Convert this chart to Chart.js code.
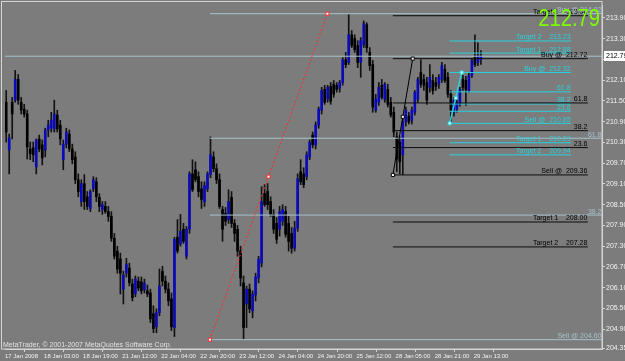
<!DOCTYPE html>
<html><head><meta charset="utf-8">
<script src="https://cdn.jsdelivr.net/npm/chart.js@4"></script>
<style>html,body{margin:0;padding:0;background:#7c7c7c;overflow:hidden}canvas{display:block}</style>
</head><body>
<canvas id="c" width="625" height="361"></canvas>
<script>
// ---- time axis labels (one every 13 bars on the index axis) ----
const tickLabels = ['17 Jan 2008','18 Jan 03:00','18 Jan 19:00','21 Jan 12:00','22 Jan 04:00','22 Jan 20:00','23 Jan 12:00','24 Jan 04:00','24 Jan 20:00','25 Jan 12:00','28 Jan 05:00','28 Jan 21:00','29 Jan 13:00'];
const priceTicks = [213.90,213.30,212.70,212.10,211.50,210.90,210.30,209.70,209.10,208.50,207.90,207.30,206.70,206.10,205.50,204.90,204.35];
const bidPrice = 212.79;

// ---- OHLC series ----
const open = [211.46,210.08,211.46,211.52,212.12,211.46,211.26,211.12,210.11,210.14,
209.59,210.40,210.23,210.08,210.66,210.71,210.69,211.09,210.80,209.80,
210.25,210.54,210.11,209.88,209.22,208.59,209.11,208.73,208.39,208.96,
209.16,208.71,208.36,208.45,208.30,208.16,207.53,207.16,206.93,206.06,
206.52,206.67,206.21,205.92,206.29,206.27,206.04,206.01,205.95,205.35,
204.97,205.38,206.58,206.29,206.06,205.78,204.95,207.56,207.36,207.79,
207.01,207.79,209.39,209.51,209.31,208.96,208.59,208.96,209.37,209.88,
209.54,209.22,208.36,208.25,208.07,208.71,207.96,207.79,207.16,206.24,
205.63,206.06,205.43,205.89,206.38,206.81,208.82,208.88,208.59,208.22,
207.96,207.79,208.02,208.30,207.96,207.67,207.24,207.82,209.45,209.39,
209.31,209.88,210.51,210.23,210.80,211.23,211.83,211.55,211.92,211.98,
211.95,211.86,212.03,212.69,212.61,213.41,213.30,213.10,212.61,213.12,
213.70,212.90,212.55,211.23,211.46,211.95,211.55,211.83,211.46,211.17,
210.46,210.31,209.94,210.89,211.06,210.94,211.17,211.55,212.32,212.12,
212.03,211.89,212.09,212.03,211.98,212.12,212.41,212.18,211.69,211.17,
211.26,211.40,212.12,212.09,211.80,212.24,212.75,212.61,212.69];
const high = [211.80,210.54,211.60,212.38,212.26,211.60,211.40,211.23,210.31,210.31,
210.40,210.51,210.37,210.71,210.94,211.17,211.52,211.23,210.94,210.37,
210.71,210.66,210.25,210.03,209.39,209.22,209.37,208.88,208.93,209.31,
209.28,208.82,208.59,208.59,208.45,208.30,207.67,207.30,207.10,206.58,
206.95,206.81,206.35,206.44,206.41,206.41,206.35,206.18,206.06,205.58,
205.49,206.64,206.72,206.44,206.24,205.95,207.56,208.07,208.22,207.96,
207.87,209.45,209.80,209.74,209.45,209.16,209.16,209.45,210.46,210.03,
209.68,209.39,208.45,208.42,208.93,208.88,208.07,207.90,207.30,206.44,
206.15,206.21,206.01,206.52,207.01,209.02,209.08,209.11,208.73,208.36,
208.13,208.45,208.50,208.45,208.16,207.84,208.02,209.39,209.80,209.57,
210.03,210.37,210.60,210.89,211.32,211.89,211.95,211.95,212.03,212.09,
212.03,212.09,212.75,212.90,213.99,213.53,213.41,213.24,213.33,213.81,
213.76,213.04,212.67,211.69,212.03,212.12,212.03,211.98,211.60,211.32,
210.60,210.46,210.97,211.32,211.17,211.32,211.80,212.18,212.69,212.26,
212.18,212.55,212.26,212.18,212.26,212.61,212.55,212.32,211.80,211.60,
211.57,211.89,212.24,212.21,212.32,212.72,213.41,213.18,212.95];
const low = [210.31,209.39,210.40,211.46,211.40,211.12,211.03,209.82,209.80,209.74,
209.39,210.03,209.65,209.88,210.46,210.60,210.60,210.60,210.23,209.51,
210.14,210.03,209.68,209.11,208.73,208.45,208.36,208.36,208.30,208.88,
208.59,208.30,208.22,208.25,208.02,207.44,206.93,206.52,205.92,205.63,
206.41,206.15,205.72,205.84,206.01,205.92,205.95,205.84,205.09,204.80,
204.80,205.29,206.15,205.95,205.58,204.86,204.69,207.10,207.30,207.38,
206.93,207.67,208.88,209.16,208.73,208.39,208.45,208.88,209.28,209.45,
209.11,208.39,207.44,207.90,207.96,207.84,207.44,207.01,206.15,204.60,
204.95,205.38,205.23,205.72,206.24,206.70,208.45,208.36,208.16,207.67,
207.38,207.59,207.90,207.56,207.16,207.10,207.16,207.73,209.08,208.99,
209.22,209.80,210.14,210.11,210.71,211.12,211.40,211.46,211.40,211.60,
211.75,211.75,211.95,212.46,212.55,213.04,212.90,212.46,212.18,213.04,
212.90,212.38,211.17,211.17,211.37,211.55,211.46,211.32,211.03,210.46,
209.45,209.39,209.37,210.77,210.83,210.83,211.09,211.46,211.89,211.80,
211.40,211.75,211.69,211.80,211.86,212.03,212.03,211.60,210.89,211.06,
211.17,211.35,211.80,211.37,211.75,212.18,212.49,212.52,212.55];
const close = [210.60,210.43,211.12,212.12,211.52,211.23,211.12,210.17,209.97,209.94,
210.37,210.11,209.85,210.66,210.80,210.94,211.12,210.69,210.40,210.25,
210.60,210.11,209.80,209.22,208.88,209.11,208.59,208.45,208.88,209.22,
208.73,208.45,208.50,208.30,208.16,207.53,207.01,206.64,206.52,206.47,
206.78,206.24,205.81,206.35,206.09,206.01,206.24,205.92,205.20,204.92,
205.38,206.15,206.29,206.06,205.72,204.97,207.50,207.16,207.73,207.44,
207.79,209.39,208.93,209.22,208.88,208.65,209.05,209.39,209.94,209.54,
209.22,208.45,207.79,208.02,208.59,207.96,207.67,207.16,206.38,204.95,
206.06,205.49,205.92,206.41,206.93,208.59,208.50,208.50,208.22,207.79,
207.50,208.30,208.36,207.64,207.44,207.24,207.82,209.25,209.16,209.08,
209.94,210.31,210.23,210.80,211.26,211.80,211.46,211.89,211.49,211.69,
211.83,212.03,212.69,212.55,213.41,213.10,212.98,212.61,213.24,213.73,
213.04,212.52,211.32,211.55,211.89,211.60,211.98,211.40,211.09,210.60,
209.82,209.74,210.89,211.23,210.89,211.23,211.75,212.12,211.98,211.95,
211.52,212.18,211.80,211.92,212.18,212.52,212.09,211.69,211.23,211.52,
211.46,211.83,211.89,211.83,212.24,212.67,212.55,212.81,212.79];

// ---- drawn objects: level sets (names, prices, bar-index span) ----
const fibNames  = ['Buy @ 214.02','61.8','38.2','Sell @ 204.60'];
const fibValues = [214.02,210.42,208.20,204.60];
const fibSpan   = [67.8,198.3];
const blkNames  = ['Target 2    213.96','Buy @  212.72','61.8','38.2','23.6','Sell @  209.36','Target 1    208.00','Target 2    207.28'];
const blkValues = [213.96,212.72,211.44,210.64,210.15,209.36,208.00,207.28];
const blkSpan   = [128.7,193.6];
const cyNames   = ['Target 2    213.23','Target 1    212.88','Buy @  212.32','61.8','38.2','23.6','Sell @  210.85','Target 1    210.29','Target 2    209.94'];
const cyValues  = [213.23,212.88,212.32,211.76,211.41,211.20,210.85,210.29,209.94];
const cySpan    = [147.6,188.0];
// zigzag trend objects (bar index, price)
const redZigX = [67.8,87.3,106.9],  redZigY = [204.60,209.31,214.02];
const blkZigX = [128.7,132.0,135.3], blkZigY = [209.36,211.04,212.72];
const cyZigX  = [147.6,149.6,151.6], cyZigY  = [210.85,211.58,212.32];

const FONT = "'Liberation Sans Narrow','Arial Narrow','Liberation Sans',Arial,sans-serif";
const FIB_C = '#a6c2cc', CY_C = '#28d2dc', BULL = '#0a0ab8', BEAR = '#000000', AXIS_T = '#f2f2f2';

Chart.defaults.font.family = FONT;
Chart.defaults.font.size = 7;

const idx = open.map((_, i) => i);
const datasets = [];

function levelSet(values, span, color, ord){
  values.forEach(v => datasets.push({type:'line', data:[{x:span[0],y:v},{x:span[1],y:v}],
    borderColor:color, borderWidth:1, pointRadius:0, order:ord}));
}
function zig(xs, ys, color, fill, dash, w){
  datasets.push({type:'line', data: xs.map((x,i)=>({x, y:ys[i]})), borderColor:color, borderWidth:w,
    borderDash:dash, pointStyle:'rect', pointRadius:2.2, pointBackgroundColor:fill,
    pointBorderColor:color, pointBorderWidth:1, order:1});
}
zig(redZigX, redZigY, '#ff2a2a', '#ffffff', [2,2], 1);
zig(blkZigX, blkZigY, '#000000', '#ffffff', [], 1);
zig(cyZigX, cyZigY, CY_C, '#d8ffff', [], 1.5);
levelSet(blkValues, blkSpan, '#0c0c0c', 2);
levelSet(cyValues, cySpan, CY_C, 2);
levelSet(fibValues, fibSpan, FIB_C, 2);
levelSet([bidPrice], [-0.4,198.3], FIB_C, 2);
datasets.push({type:'bar', data: idx.map(i=>({x:i, y:[open[i], close[i]]})), grouped:false,
  backgroundColor: idx.map(i=> close[i] >= open[i] ? BULL : BEAR), barThickness:2, minBarLength:1, order:3});
datasets.push({type:'bar', data: idx.map(i=>({x:i, y:[low[i], high[i]]})), grouped:false,
  backgroundColor:'#121212', barThickness:1, order:4});

const overlay = {
  id:'overlay',
  afterDatasetsDraw(chart){
    const {ctx, scales:{x, y}} = chart;
    ctx.save();
    ctx.font = '7px ' + FONT;
    ctx.textAlign = 'right'; ctx.textBaseline = 'alphabetic';
    const put = (names, values, span, color) => {
      ctx.fillStyle = color;
      names.forEach((n,i) => ctx.fillText(n, x.getPixelForValue(span[1]) - 0.5, y.getPixelForValue(values[i]) - 1.5));
    };
    put(blkNames, blkValues, blkSpan, '#000000');
    put(cyNames, cyValues, cySpan, CY_C);
    put(fibNames, fibValues, fibSpan, FIB_C);
    ctx.textAlign = 'left';
    ctx.fillStyle = '#e2e2e2';
    ctx.fillText('MetaTrader, \u00a9 2001-2007 MetaQuotes Software Corp.', 3, chart.chartArea.bottom - 2);
    ctx.restore();
  },
  afterDraw(chart){
    const {ctx, chartArea:a, scales:{y}} = chart;
    ctx.save();
    ctx.strokeStyle = '#d4d4d4'; ctx.lineWidth = 1;
    ctx.strokeRect(1.5, 1.5, a.right - 1.5, a.bottom - 1.5);
    // big bid text
    ctx.fillStyle = '#7dfc00';
    ctx.font = '24px Arial, "Liberation Sans", sans-serif';
    ctx.textAlign = 'right'; ctx.textBaseline = 'alphabetic';
    ctx.translate(600, 26); ctx.scale(0.84, 1);
    ctx.fillText(bidPrice.toFixed(2), 0, 0);
    ctx.restore();
    // bid price box on axis
    ctx.save();
    const py = Math.round(y.getPixelForValue(bidPrice));
    ctx.fillStyle = '#ffffff';
    ctx.fillRect(a.right + 2, py - 5, 23, 10);
    ctx.fillStyle = '#000000';
    ctx.font = '7px ' + FONT;
    ctx.textAlign = 'left'; ctx.textBaseline = 'middle';
    ctx.fillText(bidPrice.toFixed(2), a.right + 4, py);
    ctx.restore();
  }
};

new Chart(document.getElementById('c'), {
  type:'bar',
  data:{ datasets },
  options:{
    responsive:false, animation:false, devicePixelRatio:1,
    layout:{ padding:{ left:2, top:2, right:0, bottom:0 } },
    plugins:{ legend:{display:false}, tooltip:{enabled:false} },
    scales:{
      x:{ type:'linear', min:-0.4, max:198.3, offset:false,
        grid:{ drawOnChartArea:false, drawTicks:true, tickLength:3, color:'#d4d4d4' },
        border:{ display:true, color:'#d4d4d4' },
        ticks:{ autoSkip:false, maxRotation:0, align:'start', padding:1, color:AXIS_T,
          font:{ size:6 }, callback:(v,i)=>tickLabels[i] },
        afterBuildTicks:a=>{ a.ticks = tickLabels.map((_,k)=>({value:k*13-0.4})); },
        afterFit:a=>{ a.height = 12; a.paddingLeft = 0; a.paddingRight = 0; }
      },
      y:{ position:'right', min:204.33, max:214.27,
        grid:{ drawOnChartArea:false, drawTicks:true, tickLength:3, color:'#d4d4d4' },
        border:{ display:true, color:'#d4d4d4' },
        ticks:{ padding:1, color:AXIS_T, callback:v=>Number(v).toFixed(2) },
        afterBuildTicks:a=>{ a.ticks = priceTicks.map(v=>({value:v})); },
        afterFit:a=>{ a.width = 23; a.paddingTop = 0; a.paddingBottom = 0; }
      }
    }
  },
  plugins:[overlay]
});
</script>
</body></html>
